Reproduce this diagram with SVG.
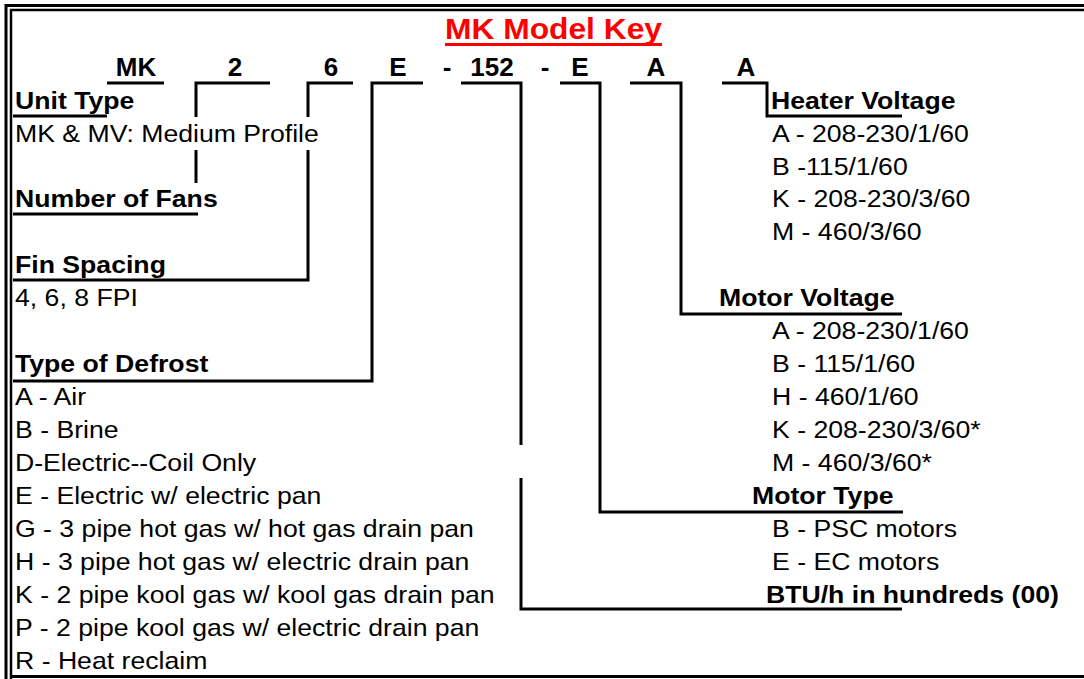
<svg xmlns="http://www.w3.org/2000/svg" width="1084" height="679" viewBox="0 0 1084 679">
<style>
.t{font-family:"Liberation Sans",Arial,Helvetica,sans-serif;font-size:24px;fill:#000;transform:scaleX(1.11);transform-box:fill-box;transform-origin:left center}
.b{font-weight:bold}
.code{font-family:"Liberation Sans",Arial,Helvetica,sans-serif;font-size:26px;font-weight:bold;fill:#000;text-anchor:middle}
.title{font-family:"Liberation Sans",Arial,Helvetica,sans-serif;font-size:30px;font-weight:bold;fill:#FF0000;text-anchor:middle}
.ln{fill:none;stroke:#000;stroke-width:3}
.frame{fill:none;stroke:#000}
</style>
<rect width="1084" height="679" fill="#fff"/>
<g id="frame">
<path class="frame" stroke-width="3" d="M6,679 V5.5 H1084"/>
<path class="frame" stroke-width="2.5" d="M11,679 V10 H1084"/>
<path class="frame" stroke-width="3" d="M11,676.5 H1084"/>
</g>
<g id="title">
<text class="title" x="553.5" y="39" textLength="217" lengthAdjust="spacingAndGlyphs">MK Model Key</text>
<line x1="445" y1="44.5" x2="662" y2="44.5" stroke="#FF0000" stroke-width="3"/>
</g>
<g id="code">
<text class="code" x="136" y="76">MK</text>
<text class="code" x="235" y="76">2</text>
<text class="code" x="331" y="76">6</text>
<text class="code" x="398" y="76">E</text>
<text class="code" x="447" y="76">-</text>
<text class="code" x="492" y="76">152</text>
<text class="code" x="545" y="76">-</text>
<text class="code" x="580" y="76">E</text>
<text class="code" x="656" y="76">A</text>
<text class="code" x="746" y="76">A</text>
</g>
<g id="unit-type">
<text class="t b" x="15" y="109">Unit Type</text>
<text class="t" x="15" y="142">MK &amp; MV: Medium Profile</text>
<line class="ln" x1="13" y1="116" x2="107" y2="116"/>
</g>
<g id="number-of-fans">
<text class="t b" x="15" y="207">Number of Fans</text>
</g>
<g id="fin-spacing">
<text class="t b" x="15" y="273">Fin Spacing</text>
<text class="t" x="15" y="306">4, 6, 8 FPI</text>
</g>
<g id="type-of-defrost">
<text class="t b" x="15" y="372">Type of Defrost</text>
<text class="t" x="15" y="405">A - Air</text>
<text class="t" x="15" y="438">B - Brine</text>
<text class="t" x="15" y="471">D-Electric--Coil Only</text>
<text class="t" x="15" y="504">E - Electric w/ electric pan</text>
<text class="t" x="15" y="537">G - 3 pipe hot gas w/ hot gas drain pan</text>
<text class="t" x="15" y="570">H - 3 pipe hot gas w/ electric drain pan</text>
<text class="t" x="15" y="603">K - 2 pipe kool gas w/ kool gas drain pan</text>
<text class="t" x="15" y="636">P - 2 pipe kool gas w/ electric drain pan</text>
<text class="t" x="15" y="669">R - Heat reclaim</text>
</g>
<g id="heater-voltage">
<text class="t b" x="771" y="109">Heater Voltage</text>
<text class="t" x="772" y="142">A - 208-230/1/60</text>
<text class="t" x="772" y="175">B -115/1/60</text>
<text class="t" x="772" y="207">K - 208-230/3/60</text>
<text class="t" x="772" y="240">M - 460/3/60</text>
</g>
<g id="motor-voltage">
<text class="t b" x="719" y="306">Motor Voltage</text>
<text class="t" x="772" y="339">A - 208-230/1/60</text>
<text class="t" x="772" y="372">B - 115/1/60</text>
<text class="t" x="772" y="405">H - 460/1/60</text>
<text class="t" x="772" y="438">K - 208-230/3/60*</text>
<text class="t" x="772" y="471">M - 460/3/60*</text>
</g>
<g id="motor-type">
<text class="t b" x="752" y="504">Motor Type</text>
<text class="t" x="772" y="537">B - PSC motors</text>
<text class="t" x="772" y="570">E - EC motors</text>
</g>
<g id="btu">
<text class="t b" x="766" y="603">BTU/h in hundreds (00)</text>
</g>
<g id="connectors">
<path class="ln" d="M107,83 H164"/>
<path class="ln" d="M270,83 H196 V117"/>
<path class="ln" d="M196,150 V183"/>
<path class="ln" d="M13,214 H198"/>
<path class="ln" d="M353,83 H308 V117"/>
<path class="ln" d="M308,150 V280 H13"/>
<path class="ln" d="M423,83 H372 V381 H13"/>
<path class="ln" d="M461,83 H521 V445"/>
<path class="ln" d="M521,478 V609 H902"/>
<path class="ln" d="M560,83 H600 V512 H903"/>
<path class="ln" d="M630,83 H681 V314 H902"/>
<path class="ln" d="M722,83 H767 V116 H902"/>
</g>
</svg>
